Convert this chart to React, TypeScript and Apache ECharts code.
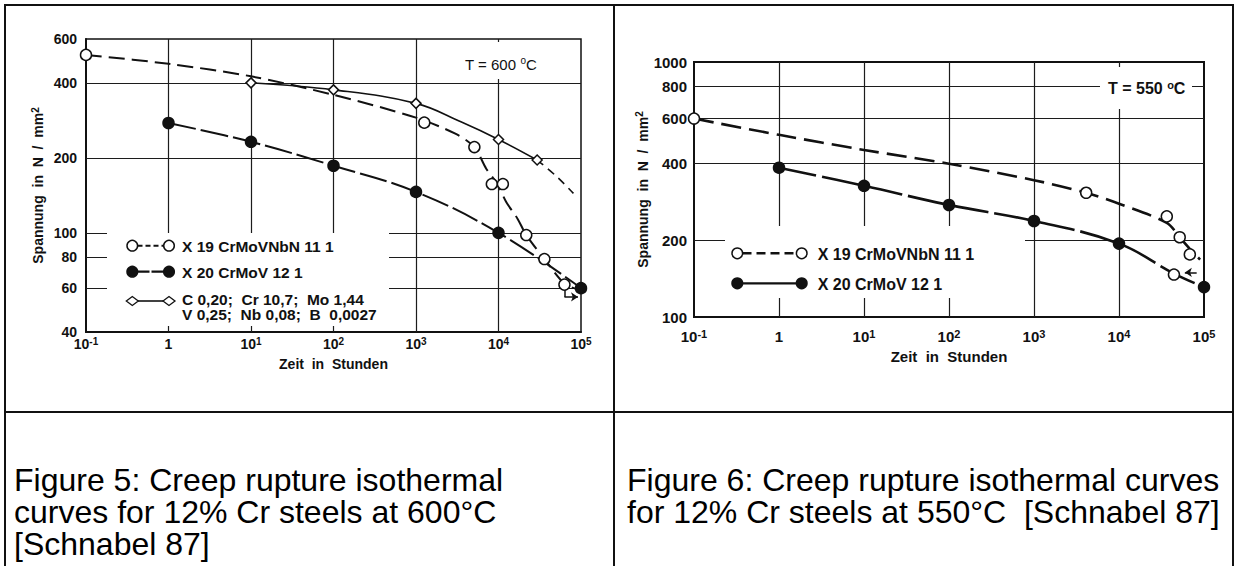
import { useEffect, useRef } from 'react';
import * as echarts from 'echarts';

// ---------- shared axis ticks ----------
const hourTicks = [0.1, 1, 10, 100, 1000, 10000, 100000];
const hourGridValues = [1, 10, 100, 1000, 10000];

// ---------- Figure 5: T = 600 °C ----------
const f5StressTicks = [40, 60, 80, 100, 200, 400, 600];
const f5StressGridValues = [60, 80, 100, 200, 400];

// X 19 CrMoVNbN 11 1 (open circles) – measured points and fitted curve
const f5HoursX19 = [0.1, 1260, 5100, 8300, 11300, 21700, 36000, 63000];
const f5StressX19 = [518, 277, 221, 157, 157, 98, 78.5, 62];
const f5CurveHoursX19 = [0.1, 1, 10, 100, 1000, 3000, 5100, 7100, 9700, 12400, 17000, 21700, 36000, 63000, 90000];
const f5CurveStressX19 = [518, 477, 425, 358, 290, 250, 221, 181, 157, 133, 114, 98, 78.5, 62.5, 59.5];

// X 20 CrMoV 12 1 (filled circles)
const f5HoursX20 = [1, 10, 100, 1000, 10000, 100000];
const f5StressX20 = [276, 232, 186, 146, 100, 60];

// C 0,20; Cr 10,7; Mo 1,44; V 0,25; Nb 0,08; B 0,0027 (diamonds)
const f5HoursAlloy = [10, 100, 1000, 10000, 29400];
const f5StressAlloy = [400, 375, 331, 237, 196];
const f5CurveHoursAlloy = [10, 100, 1000, 3500, 10000, 29400];
const f5CurveStressAlloy = [400, 375, 331, 279, 237, 196];
const f5ExtHoursAlloy = [29400, 51000, 81000];
const f5ExtStressAlloy = [196, 168, 144];

// run-out marker (test still running) next to the last X 19 point
const f5RunoutHours = [63000, 63000, 92000];
const f5RunoutStress = [59.4, 55.3, 55.3];

const f5LegendLabels = [
  'X 19 CrMoVNbN 11 1',
  'X 20 CrMoV 12 1',
  'C 0,20;  Cr 10,7;  Mo 1,44',
  'V 0,25;  Nb 0,08;  B  0,0027',
];

// ---------- Figure 6: T = 550 °C ----------
const f6StressTicks = [100, 200, 400, 600, 800, 1000];
const f6StressGridValues = [200, 400, 600, 800];

const f6HoursX19 = [0.1, 4110, 36500, 51800, 68100, 44300];
const f6StressX19 = [600, 307, 248, 205.5, 176, 146.7];
const f6CurveHoursX19 = [0.1, 1, 10, 100, 1000, 4110, 10000, 36500, 51800, 68000, 90000];
const f6CurveStressX19 = [600, 518, 452, 399, 344, 307, 278, 234, 205.5, 185, 168];

const f6HoursX20 = [1, 10, 100, 1000, 10000, 100000];
const f6StressX20 = [385, 327, 275, 238, 194, 131];
const f6CurveHoursX20 = [1, 10, 100, 1000, 10000, 44300, 100000];
const f6CurveStressX20 = [385, 327, 275, 238, 194, 148, 131];

const f6RunoutHours = [82000, 59500];
const f6RunoutStress = [149.6, 149.6];

const f6LegendLabels = ['X 19 CrMoVNbN 11 1', 'X 20 CrMoV 12 1'];

const captionLeft = ['Figure 5: Creep rupture isothermal', 'curves for 12% Cr steels at 600°C', '[Schnabel 87]'];
const captionRight = ['Figure 6: Creep rupture isothermal curves', 'for 12% Cr steels at 550°C  [Schnabel 87]'];

// ---------- styling ----------
const FONT = '"Liberation Sans", Arial, Helvetica, sans-serif';
const INK = '#111';
const GRID = '#1c1c1c';

const pairs = (xs: number[], ys: number[]) => xs.map((x, i) => [x, ys[i]]);

const tickRich = (size: number) => ({
  b: { fontSize: size, fontWeight: 'bold', fontFamily: FONT, color: INK, lineHeight: size + 2 },
  s: { fontSize: size - 4, fontWeight: 'bold', fontFamily: FONT, color: INK, lineHeight: 8, verticalAlign: 'top' },
});

const hourLabel = (v: number) => {
  const e = Math.round(Math.log10(v));
  return e === 0 ? '{b|1}' : `{b|10}{s|${e}}`;
};
const stressLabel = (v: number) => `{b|${Math.round(v)}}`;

function xAxisFor(gi: number, size: number, margin: number, nameGap: number, nameSize: number) {
  return {
    type: 'log',
    logBase: 10,
    gridIndex: gi,
    min: 0.1,
    max: 100000,
    axisLine: { show: true, onZero: false, lineStyle: { color: INK, width: 2 } },
    axisTick: { show: false },
    splitLine: { show: false },
    minorTick: { show: false },
    minorSplitLine: { show: false },
    axisLabel: { customValues: hourTicks, formatter: hourLabel, margin, rich: tickRich(size) },
    name: 'Zeit  in  Stunden',
    nameLocation: 'middle',
    nameGap,
    nameTextStyle: { fontFamily: FONT, fontWeight: 'bold', fontSize: nameSize, color: INK },
  };
}

function yAxisFor(gi: number, min: number, max: number, ticks: number[], size: number, margin: number, nameGap: number) {
  return {
    type: 'log',
    logBase: 10,
    gridIndex: gi,
    min,
    max,
    axisLine: { show: true, onZero: false, lineStyle: { color: INK, width: 2 } },
    axisTick: { show: false },
    splitLine: { show: false },
    minorTick: { show: false },
    minorSplitLine: { show: false },
    axisLabel: { customValues: ticks, formatter: stressLabel, margin, rich: tickRich(size) },
    name: '{n|Spannung  in  N  /  mm}{s|2}',
    nameLocation: 'middle',
    nameRotate: 90,
    nameGap,
    nameTextStyle: {
      rich: {
        n: { fontFamily: FONT, fontWeight: 'bold', fontSize: 14, color: INK, lineHeight: 16 },
        s: { fontFamily: FONT, fontWeight: 'bold', fontSize: 10, color: INK, lineHeight: 8, verticalAlign: 'top' },
      },
    },
  };
}

function gridLines(gi: number, yValues: number[], xValues: number[]) {
  return {
    type: 'line',
    xAxisIndex: gi,
    yAxisIndex: gi,
    data: [],
    silent: true,
    z: 1,
    markLine: {
      z: 1,
      silent: true,
      symbol: ['none', 'none'],
      label: { show: false },
      emphasis: { disabled: true },
      lineStyle: { color: GRID, width: 1.2, type: 'solid' },
      data: [...yValues.map((v) => ({ yAxis: v })), ...xValues.map((v) => ({ xAxis: v }))],
    },
  };
}

function curve(gi: number, xs: number[], ys: number[], dash: any, width: number, smooth = 0.4) {
  return {
    type: 'line',
    xAxisIndex: gi,
    yAxisIndex: gi,
    data: pairs(xs, ys),
    smooth,
    showSymbol: false,
    symbol: 'none',
    silent: true,
    z: 3,
    lineStyle: { color: INK, width, type: dash, cap: 'butt' },
  };
}

function points(gi: number, xs: number[], ys: number[], symbol: string, size: any, filled: boolean) {
  return {
    type: 'scatter',
    xAxisIndex: gi,
    yAxisIndex: gi,
    data: pairs(xs, ys),
    symbol,
    symbolSize: size,
    silent: true,
    z: 4,
    itemStyle: { color: filled ? INK : '#fff', borderColor: INK, borderWidth: 1.5, opacity: 1 },
  };
}

function runout(gi: number, xs: number[], ys: number[]) {
  const segs: any[] = [];
  for (let i = 0; i < xs.length - 1; i++) {
    const last = i === xs.length - 2;
    segs.push([
      { coord: [xs[i], ys[i]], symbol: 'none' },
      { coord: [xs[i + 1], ys[i + 1]], symbol: last ? 'arrow' : 'none', symbolSize: last ? 7 : 0 },
    ]);
  }
  return {
    type: 'line',
    xAxisIndex: gi,
    yAxisIndex: gi,
    data: [],
    silent: true,
    z: 4,
    markLine: {
      z: 4,
      silent: true,
      label: { show: false },
      emphasis: { disabled: true },
      lineStyle: { color: INK, width: 1.5, type: 'solid' },
      data: segs,
    },
  };
}

// ---------- decorations drawn with the graphic component ----------
const line = (x1: number, y1: number, x2: number, y2: number, w: number, dash?: number[], z = 10) => ({
  type: 'line',
  silent: true,
  z,
  shape: { x1, y1, x2, y2 },
  style: { stroke: INK, lineWidth: w, lineDash: dash },
});
const box = (x: number, y: number, width: number, height: number) => ({
  type: 'rect',
  silent: true,
  z: 2,
  shape: { x, y, width, height },
  style: { fill: '#fff' },
});
const dot = (cx: number, cy: number, filled: boolean) => ({
  type: 'circle',
  silent: true,
  z: 6,
  shape: { cx, cy, r: 5.3 },
  style: { fill: filled ? INK : '#fff', stroke: INK, lineWidth: 1.5 },
});
const diamond = (cx: number, cy: number) => ({
  type: 'polygon',
  silent: true,
  z: 6,
  shape: { points: [[cx - 6, cy], [cx, cy - 4.5], [cx + 6, cy], [cx, cy + 4.5]] },
  style: { fill: '#fff', stroke: INK, lineWidth: 1.3 },
});
const label = (x: number, y: number, text: string, size: number, weight = 'bold', align = 'left') => ({
  type: 'text',
  silent: true,
  z: 6,
  x,
  y,
  style: { text, fill: INK, fontFamily: FONT, fontSize: size, fontWeight: weight, align, verticalAlign: 'middle' },
});
const tempLabel = (x: number, y: number, value: string, size: number, weight: string) => ({
  type: 'text',
  silent: true,
  z: 6,
  x,
  y,
  style: {
    text: `{n|T = ${value} }{s|o}{n|C}`,
    fill: INK,
    align: 'left',
    verticalAlign: 'middle',
    rich: {
      n: { fontFamily: FONT, fontSize: size, fontWeight: weight, fill: INK, lineHeight: size + 2 },
      s: { fontFamily: FONT, fontSize: size - 5, fontWeight: weight, fill: INK, lineHeight: 8, verticalAlign: 'top' },
    },
  },
});
const caption = (x: number, y: number, text: string) => ({
  type: 'text',
  silent: true,
  z: 6,
  x,
  y,
  style: { text, fill: '#000', fontFamily: FONT, fontSize: 32, fontWeight: 'normal', align: 'left', verticalAlign: 'middle' },
});

function buildOption() {
  const graphics: any[] = [
    // table frame
    line(5, 4, 5, 566, 2),
    line(4, 5, 1234, 5, 2),
    line(1233, 4, 1233, 566, 2),
    line(614, 4, 614, 566, 2),
    line(4, 412, 1234, 412, 2),

    // Figure 5 legend and temperature label
    box(107, 233, 282, 93),
    box(455, 42, 100, 37),
    tempLabel(465, 64, '600', 15, 'normal'),
    line(137.5, 245.7, 163.8, 245.7, 2, [5, 3], 5),
    dot(132.3, 245.7, false),
    dot(169, 245.7, false),
    label(182, 246, f5LegendLabels[0], 15.5),
    line(137.5, 271.7, 163.8, 271.7, 2.2, [12, 2], 5),
    dot(132.3, 271.7, true),
    dot(169, 271.7, true),
    label(182, 272, f5LegendLabels[1], 15.5),
    line(138, 301, 163, 301, 1.6, undefined, 5),
    diamond(132.3, 301),
    diamond(169, 301),
    label(182, 299.5, f5LegendLabels[2], 15.5),
    label(182, 314.5, f5LegendLabels[3], 15.5),

    // Figure 6 legend and temperature label
    box(725, 226, 300, 72),
    box(1100, 67, 92, 42),
    tempLabel(1108, 88.5, '550', 16, 'bold'),
    line(742.5, 253.3, 796.5, 253.3, 2.5, [9, 5], 5),
    dot(737.3, 253.3, false),
    dot(801.7, 253.3, false),
    label(817.7, 254, f6LegendLabels[0], 16),
    line(742.5, 283.3, 796.5, 283.3, 2.2, undefined, 5),
    dot(737.3, 283.3, true),
    dot(801.7, 283.3, true),
    label(817.7, 284, f6LegendLabels[1], 16),

    // captions
    ...captionLeft.map((t, i) => caption(14, 480 + i * 32, t)),
    ...captionRight.map((t, i) => caption(627, 480 + i * 32, t)),
  ];

  return {
    animation: false,
    backgroundColor: '#fff',
    grid: [
      { left: 86, top: 39, width: 495, height: 293, show: true, borderColor: INK, borderWidth: 1.5, backgroundColor: 'transparent' },
      { left: 694, top: 62, width: 510, height: 255, show: true, borderColor: INK, borderWidth: 2, backgroundColor: 'transparent' },
    ],
    xAxis: [xAxisFor(0, 14, 4, 25, 14), xAxisFor(1, 15, 11, 32, 15)],
    yAxis: [
      yAxisFor(0, 40, 600, f5StressTicks, 14, 9, 40),
      yAxisFor(1, 100, 1000, f6StressTicks, 15, 7, 40),
    ],
    series: [
      gridLines(0, f5StressGridValues, hourGridValues),
      gridLines(1, f6StressGridValues, hourGridValues),

      curve(0, f5CurveHoursX19, f5CurveStressX19, [16, 7], 2, 0.3),
      curve(0, f5HoursX20, f5StressX20, [28, 5], 2),
      curve(0, f5CurveHoursAlloy, f5CurveStressAlloy, 'solid', 1.6),
      curve(0, f5ExtHoursAlloy, f5ExtStressAlloy, [8, 6], 1.6),
      points(0, f5HoursX19, f5StressX19, 'circle', 11, false),
      points(0, f5HoursX20, f5StressX20, 'circle', 11, true),
      points(0, f5HoursAlloy, f5StressAlloy, 'diamond', [10, 10], false),
      runout(0, f5RunoutHours, f5RunoutStress),

      curve(1, f6CurveHoursX19, f6CurveStressX19, [20, 8], 2.6, 0.3),
      curve(1, f6CurveHoursX20, f6CurveStressX20, [38, 6], 2.6),
      points(1, f6HoursX19, f6StressX19, 'circle', 11, false),
      points(1, f6HoursX20, f6StressX20, 'circle', 11, true),
      runout(1, f6RunoutHours, f6RunoutStress),
    ],
    graphic: { elements: graphics },
  };
}

export default function App() {
  const ref = useRef<HTMLDivElement>(null);
  useEffect(() => {
    const el = ref.current;
    if (!el) return;
    const chart = echarts.init(el, undefined, { renderer: 'svg' });
    chart.setOption(buildOption() as any);
    return () => chart.dispose();
  }, []);
  return (
    <div
      ref={ref}
      style={{ position: 'fixed', left: 0, top: 0, width: 1237, height: 566, background: '#fff' }}
    />
  );
}
